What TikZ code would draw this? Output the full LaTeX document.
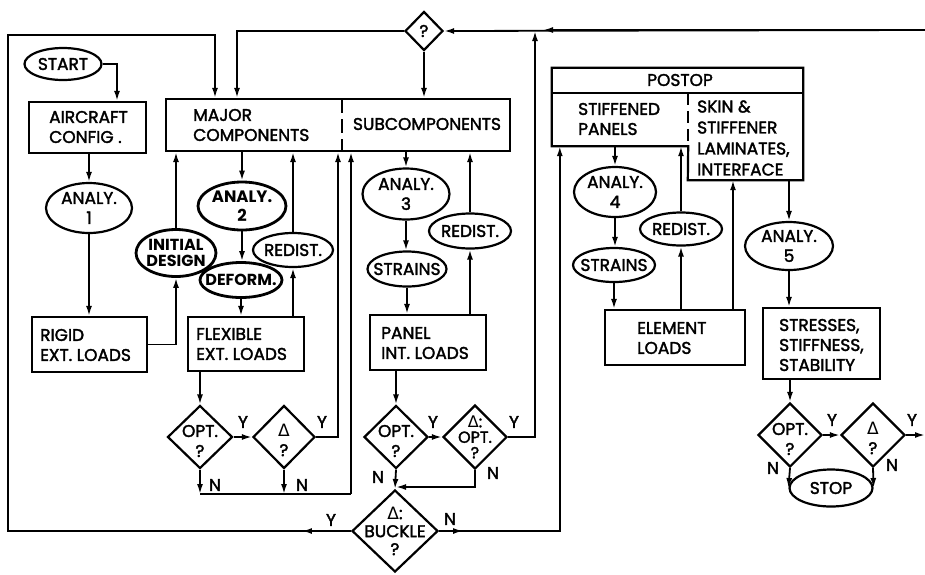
\documentclass[tikz,border=0pt]{standalone}
\usepackage{fontspec}
\setmainfont{Poppins}[UprightFeatures={FakeBold=2}]
\newfontfamily\dvfont{DejaVu Sans}
\usetikzlibrary{shapes.geometric,arrows.meta,calc}
\newcommand\dfont{\fontsize{17}{20}\selectfont}
\newcommand\Dl{{\dvfont Δ}}
\begin{document}
\begin{tikzpicture}[x=1pt,y=-1pt,
 ln/.style={line width=1.8pt},
 arr/.style={ln,-{Latex[length=10pt,width=6pt]}},
 bx/.style={draw,line width=2.2pt,rectangle,inner sep=0pt},
 ov/.style={draw,line width=2.2pt,ellipse,inner sep=0pt},
 ovb/.style={ov,line width=2.8pt},
 dm/.style={draw,line width=2.2pt,diamond,inner sep=0pt},
 tx/.style={font=\dfont,inner sep=0pt,align=center},
 txb/.style={font=\fontsize{16}{16}\selectfont\bfseries,inner sep=0pt,align=center},
 tl/.style={font=\dfont,inner sep=0pt,align=left,anchor=west},
 yn/.style={font=\dfont,inner sep=0pt},
]
\useasboundingbox (0,0) rectangle (925,574);
% ---- nodes ----
\node[ov,minimum width=77pt,minimum height=32pt,label={[tx]center:START}] (start) at (63,64) {};
\node[bx,minimum width=117pt,minimum height=51pt] (ac) at (87.5,127.5) {};
\node[tl] (act) at (49,127) {AIRCRAFT\\CONFIG .};
\node[bx,minimum width=344pt,minimum height=52pt] (ms) at (338,125) {};
\draw[line width=2.2pt,dash pattern=on 14pt off 6pt] (342,99) -- (342,151);
\node[tl] (mst) at (193,125) {MAJOR\\COMPONENTS};
\node[tx] (sct) at (427,124) {SUBCOMPONENTS};
\node[dm,minimum width=38pt,minimum height=39pt,label={[tx]center:?}] (q) at (424,31) {};

\node[ov,minimum width=86pt,minimum height=50pt,label={[tx]center:ANALY.\\1}] (a1) at (89,208) {};
\node[bx,minimum width=115pt,minimum height=55pt] (rigid) at (89.5,344.5) {};
\node[tl] (rigt) at (40,345) {RIGID\\EXT.\ LOADS};
\node[ovb,minimum width=80pt,minimum height=47pt,label={[txb]center:INITIAL\\DESIGN}] (init) at (176,253) {};
\node[ovb,minimum width=88pt,minimum height=48pt,label={[txb,font=\fontsize{16.5}{19}\selectfont\bfseries]center:ANALY.\\2}] (a2) at (242,206) {};
\node[ovb,minimum width=82pt,minimum height=35pt,label={[txb]center:DEFORM.}] (deform) at (241,280) {};
\node[ov,minimum width=80pt,minimum height=34pt,label={[tx]center:REDIST.}] (r2) at (293,250) {};
\node[bx,minimum width=116pt,minimum height=54pt] (flex) at (246,344) {};
\node[tl] (flext) at (196,344) {FLEXIBLE\\EXT.\ LOADS};
\node[dm,minimum width=65pt,minimum height=63pt,label={[tx,yshift=-4pt]center:OPT.\\?}] (opt1) at (200,437) {};
\node[dm,minimum width=62pt,minimum height=63pt,label={[tx,yshift=-3pt]center:\Dl\\?}] (d1) at (284,437) {};

\node[ov,minimum width=87pt,minimum height=51pt,label={[tx]center:ANALY.\\3}] (a3) at (406,194) {};
\node[ov,minimum width=79pt,minimum height=35pt,label={[tx]center:STRAINS}] (s3) at (407,269) {};
\node[ov,minimum width=82pt,minimum height=35pt,label={[tx]center:REDIST.}] (r3) at (470,231) {};
\node[bx,minimum width=116pt,minimum height=55pt] (panel) at (428,342.5) {};
\node[tl] (panelt) at (381,343) {PANEL\\INT.\ LOADS};
\node[dm,minimum width=64pt,minimum height=63pt,label={[tx,yshift=-4pt]center:OPT.\\?}] (opt2) at (396,437) {};
\node[dm,minimum width=64pt,minimum height=64pt,label={[tx,font=\fontsize{16}{15.5}\selectfont]center:\Dl:\\OPT.\\?}] (do) at (475,437) {};
\node[dm,minimum width=86pt,minimum height=82pt,label={[tx,font=\fontsize{17}{18}\selectfont]center:\Dl:\\BUCKLE\\?}] (bu) at (395,531) {};

\node[minimum width=251pt,minimum height=25pt,inner sep=0pt] (post) at (677.5,80.5) {};
\node[minimum width=136pt,minimum height=53pt,inner sep=0pt] (stiff) at (620,119.5) {};
\node[minimum width=115pt,minimum height=87pt,inner sep=0pt] (skin) at (745.5,136.5) {};
\draw[line width=2.2pt] (post.north west) -- (post.north east) -- (skin.south east) -- (skin.south west) -- (stiff.south east) -- (stiff.south west) -- cycle;
\draw[line width=2.2pt] (post.south west) -- (post.south east);
\draw[line width=2.2pt,dash pattern=on 12pt off 6pt] (stiff.north east) -- (stiff.south east);
\node[tx] (postt) at (680,80) {POSTOP};
\node[tl] (stifft) at (578,119) {STIFFENED\\PANELS};
\node[tl,font=\fontsize{17}{21}\selectfont] (skint) at (697,138) {SKIN \&\\STIFFENER\\LAMINATES,\\INTERFACE};

\node[ov,minimum width=82pt,minimum height=50pt,label={[tx]center:ANALY.\\4}] (a4) at (615,192) {};
\node[ov,minimum width=82pt,minimum height=34pt,label={[tx]center:STRAINS}] (s4) at (614,265) {};
\node[ov,minimum width=82pt,minimum height=33pt,label={[tx]center:REDIST.}] (r4) at (681,229) {};
\node[bx,minimum width=140pt,minimum height=55pt] (elem) at (675,337.5) {};
\node[tl] (elemt) at (637,338) {ELEMENT\\LOADS};
\node[ov,minimum width=88pt,minimum height=48pt,label={[tx]center:ANALY.\\5}] (a5) at (789,246) {};
\node[bx,minimum width=117pt,minimum height=71pt] (stress) at (821.5,343.5) {};
\node[tl] (stresst) at (779,345) {STRESSES,\\STIFFNESS,\\STABILITY};
\node[dm,minimum width=64pt,minimum height=64pt,label={[tx,yshift=-4pt]center:OPT.\\?}] (opt3) at (790,435) {};
\node[dm,minimum width=64pt,minimum height=64pt,label={[tx,yshift=-3pt]center:\Dl\\?}] (d3) at (873,435) {};
\node[ov,minimum width=83pt,minimum height=37pt,label={[tx]center:STOP}] (stop) at (831,488) {};

% ---- Y / N labels ----
\node[yn] (y1) at (243,422) {Y};
\node[yn] (y2) at (322,422) {Y};
\node[yn] (y3) at (433,422) {Y};
\node[yn] (y4) at (514,422) {Y};
\node[yn] (y5) at (832,420) {Y};
\node[yn] (y6) at (912,420) {Y};
\node[yn] (y7) at (331,520) {Y};
\node[yn] (n1) at (215,485) {N};
\node[yn] (n2) at (302,485) {N};
\node[yn] (n3) at (378,477) {N};
\node[yn] (n4) at (493,473) {N};
\node[yn] (n5) at (450,519) {N};
\node[yn] (n6) at (773,468) {N};
\node[yn] (n7) at (892,465) {N};

% ---- connectors ----
\coordinate (nj) at (351,494);
\coordinate (tj) at (535,31);
\coordinate (bj) at (396,487);
\coordinate (cl1) at (8,531);
\coordinate (cl2) at (8,35);
\coordinate (tr) at (925,30);
\coordinate (tr2) at (925,435);

\draw[arr] (start.east) -| ([xshift=29.5pt]ac.north);
\draw[arr] (a1.north |- ac.south) -- (a1.north);
\draw[arr] (a1.south) -- (a1.south |- rigid.north);
\draw[arr] (rigid.east) -| (init.south);
\draw[arr] (init.north) -- (init.north |- ms.south);
\draw[arr] (a2.north |- ms.south) -- (a2.north);
\draw[arr] (a2.south) -- (a2.south |- deform.north);
\draw[arr] (deform.south) -- (deform.south |- flex.north);
\draw[arr] (r2.south |- flex.north) -- (r2.south);
\draw[arr] (r2.north) -- (r2.north |- ms.south);
\draw[arr] (opt1.north |- flex.south) -- (opt1.north);
\draw[arr] (opt1.east) -- (d1.west);
\draw[arr] (d1.east) -| (ms.south);
\draw[arr] (opt1.south) -- (opt1.south |- nj);
\draw[arr] (d1.south) -- (d1.south |- nj);
\draw[ln] (opt1.south |- nj) -- (nj);
\draw[arr] (nj) -- (nj |- ms.south);

\draw[arr] (a3.north |- ms.south) -- (a3.north);
\draw[arr] (a3.south) -- (a3.south |- s3.north);
\draw[arr] (s3.south) -- (s3.south |- panel.north);
\draw[arr] (r3.south |- panel.north) -- (r3.south);
\draw[arr] (r3.north) -- (r3.north |- ms.south);
\draw[arr] (opt2.north |- panel.south) -- (opt2.north);
\draw[arr] (opt2.east) -- (do.west);
\draw[arr] (do.east) -| (tj);
\draw[arr] (do.south) |- (bj);
\draw[arr] (opt2.south) -- (bu.north);
\draw[arr] (bu.west) -- ++(-49,0);
\draw[arr] (bu.west) -- (cl1) -- (cl2) -| ([xshift=-123pt]ms.north);
\draw[arr] (bu.east) -- ++(24,0);
\draw[arr] (bu.east) -| ([xshift=8pt]stiff.south west);

\draw[arr] (tr) -- (q.east);
\draw[arr] (tr) -- (543,30);
\draw[arr] (q.west) -| ([xshift=-101pt]ms.north);
\draw[arr] (q.south) -- (q.south |- ms.north);

\draw[arr] (a4.north |- stiff.south) -- (a4.north);
\draw[arr] (a4.south) -- (a4.south |- s4.north);
\draw[arr] (s4.south) -- (s4.south |- elem.north);
\draw[arr] (r4.south |- elem.north) -- (r4.south);
\draw[arr] (r4.north) -- (r4.north |- stiff.south);
\draw[arr] ([xshift=58pt]elem.north) -- ([xshift=58pt]elem.north |- skin.south);
\draw[arr] (a5.north |- skin.south) -- (a5.north);
\draw[arr] (a5.south) -- (a5.south |- stress.north);
\draw[arr] (opt3.north |- stress.south) -- (opt3.north);
\draw[arr] (opt3.east) -- (d3.west);
\draw[arr] (d3.east) -- (tr2);
\draw[arr] (opt3.south) -- (stop.west);
\draw[arr] (d3.south) -- (stop.east);
\end{tikzpicture}
\end{document}
